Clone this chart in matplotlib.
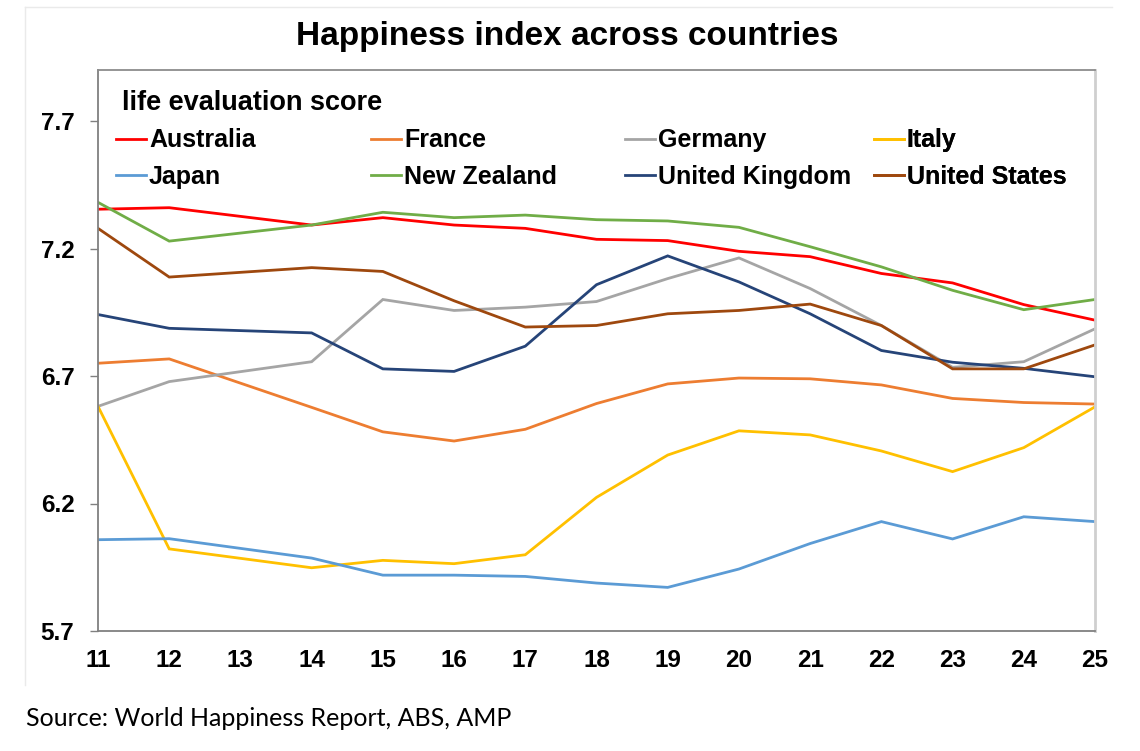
import matplotlib
matplotlib.use("Agg")
import matplotlib.pyplot as plt
from matplotlib.lines import Line2D

years = [11, 12, 14, 15, 16, 17, 18, 19, 20, 21, 22, 23, 24, 25]
tick_years = list(range(11, 26))

australia = [7.354, 7.360, 7.292, 7.321, 7.292, 7.279, 7.236, 7.231, 7.189, 7.168, 7.102, 7.065, 6.980, 6.919]
france = [6.750, 6.767, 6.577, 6.481, 6.445, 6.491, 6.592, 6.669, 6.692, 6.689, 6.665, 6.612, 6.596, 6.590]
germany = [6.581, 6.678, 6.756, 7.000, 6.957, 6.970, 6.992, 7.082, 7.163, 7.043, 6.898, 6.734, 6.756, 6.885]
italy = [6.581, 6.022, 5.948, 5.977, 5.964, 5.999, 6.224, 6.390, 6.485, 6.469, 6.406, 6.325, 6.419, 6.579]
japan = [6.058, 6.062, 5.986, 5.919, 5.919, 5.914, 5.888, 5.871, 5.943, 6.043, 6.129, 6.061, 6.148, 6.129]
new_zealand = [7.381, 7.229, 7.292, 7.342, 7.321, 7.331, 7.313, 7.308, 7.283, 7.207, 7.128, 7.036, 6.960, 7.000]
united_kingdom = [6.941, 6.887, 6.869, 6.728, 6.718, 6.817, 7.058, 7.171, 7.069, 6.944, 6.800, 6.754, 6.730, 6.697]
united_states = [7.279, 7.088, 7.125, 7.110, 6.995, 6.892, 6.898, 6.944, 6.957, 6.982, 6.898, 6.728, 6.728, 6.822]

names = ["Australia", "France", "Germany", "Italy",
         "Japan", "New Zealand", "United Kingdom", "United States"]
series = [australia, france, germany, italy,
          japan, new_zealand, united_kingdom, united_states]
colors = ["#FF0000", "#ED7D31", "#A5A5A5", "#FFC000",
          "#5B9BD5", "#70AD47", "#264478", "#9E480E"]

yticks = [5.7, 6.2, 6.7, 7.2, 7.7]

plt.rcParams['font.family'] = ['Liberation Sans', 'DejaVu Sans']

fig = plt.figure(figsize=(11.4, 7.51), dpi=100)
ax = fig.add_axes([98/1140, 1 - 631/751, (1095-98)/1140, (631-70)/751])

lines = []
for name, vals, c in zip(names, series, colors):
    ln, = ax.plot(years, vals, color=c, lw=2.0, label=name, solid_joinstyle='miter')
    lines.append(ln)

ax.set_xlim(11, 25)
ax.set_ylim(5.7, 7.9)
ax.set_xticks(tick_years)
ax.set_xticklabels([str(y) for y in tick_years])
ax.set_yticks(yticks)
ax.set_yticklabels([f"{v:.1f}" for v in yticks])
ax.tick_params(axis='x', length=0, pad=13, labelsize=17.5)
ax.tick_params(axis='y', length=6, width=1, color='#808080', pad=11, labelsize=17.5)
for lab in ax.get_xticklabels() + ax.get_yticklabels():
    lab.set_fontweight('bold')

ax.spines['left'].set_color('#808080')
ax.spines['bottom'].set_color('#808080')
ax.spines['top'].set_color('#8C8C8C')
ax.spines['right'].set_color('#CFCFCF')
ax.spines['right'].set_linewidth(2)
for s in ['left', 'bottom', 'top']:
    ax.spines[s].set_linewidth(1.3)

# legend: four columns, two rows each
col_x = [0.018, 0.274, 0.529, 0.778]
for i in range(4):
    leg = ax.legend(handles=[lines[i], lines[i + 4]], loc='center left',
                    bbox_to_anchor=(col_x[i], 0.842), frameon=False,
                    handlelength=1.2, handletextpad=0.12, borderpad=0,
                    borderaxespad=0, labelspacing=0.5,
                    prop={'size': 18, 'weight': 'bold'})
    ax.add_artist(leg)

ax.text(0.024, 0.941, "life evaluation score", transform=ax.transAxes,
        fontsize=19.5, fontweight='bold', va='center', ha='left')

fig.text(567/1140, 1 - 37/751, "Happiness index across countries",
         fontsize=24, fontweight='bold', ha='center', va='center')

fig.text(26/1140, 1 - 718/751, "Source: World Happiness Report, ABS, AMP",
         fontsize=18, ha='left', va='center', family=['Lato', 'DejaVu Sans'])

# faint outer frame lines
fig.add_artist(Line2D([25/1140, 1112/1140], [1 - 7/751, 1 - 7/751],
                      transform=fig.transFigure, color='#EAEAEA', lw=1))
fig.add_artist(Line2D([25/1140, 25/1140], [1 - 7/751, 1 - 685/751],
                      transform=fig.transFigure, color='#EAEAEA', lw=1))

fig.savefig("out.png", dpi=100)
